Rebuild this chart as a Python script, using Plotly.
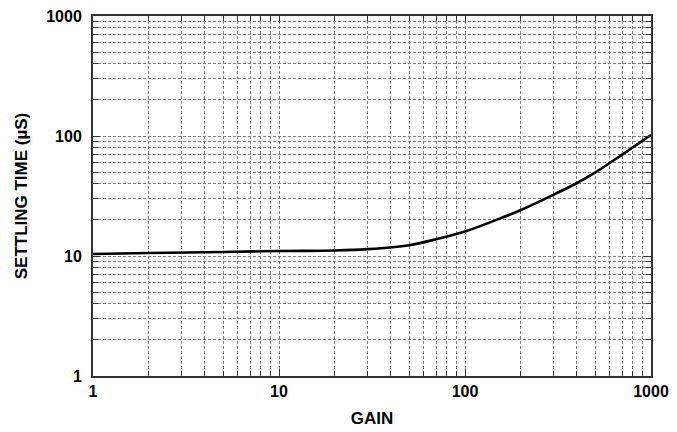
import plotly.graph_objects as go

gain = [1, 2, 5, 10, 20, 30, 50, 70, 100, 150, 200, 300, 400, 500, 700, 1000]
settling_us = [10.4, 10.6, 10.8, 11.0, 11.1, 11.4, 12.3, 13.8, 16.0, 20.2, 24.2, 32.5, 40.6, 49.5, 70.0, 102]

x_ticks = [1, 10, 100, 1000]
x_ticklabels = ["1", "10", "100", "1000"]
y_ticks = [1, 10, 100, 1000]
y_ticklabels = ["1", "10", "100", "1000"]
minor_vals = [m * d for d in (1, 10, 100) for m in range(2, 10)]

FONT = "Liberation Sans, Arial, sans-serif"
GRID = "#7f7f7f"
AX = "#333333"

fig = go.Figure()
fig.add_trace(go.Scatter(x=gain, y=settling_us, mode="lines",
                         line=dict(color="black", width=2.6, shape="spline", smoothing=1.0),
                         showlegend=False))

common = dict(type="log", showline=True, linecolor=AX, linewidth=2, mirror="ticks",
              ticks="inside", ticklen=7, tickwidth=1, tickcolor=AX,
              showgrid=True, gridcolor=GRID, gridwidth=1, griddash="3px,2px",
              tickfont=dict(family=FONT, size=16, color="black", weight="bold"),
              zeroline=False, tickmode="array", automargin=False,
              minor=dict(tickmode="array", tickvals=minor_vals, ticks="inside", ticklen=5,
                         tickcolor=AX, showgrid=True, gridcolor=GRID, gridwidth=1,
                         griddash="3px,2px"))

fig.update_xaxes(**common, range=[0, 3], tickvals=x_ticks, ticktext=x_ticklabels,
                 title=dict(text="GAIN", font=dict(family=FONT, size=17, color="black", weight="bold"),
                            standoff=13))
fig.update_yaxes(**common, range=[0, 3], tickvals=y_ticks, ticktext=y_ticklabels,
                 ticklabelstandoff=6,
                 title=dict(text="SETTLING TIME (µS)", font=dict(family=FONT, size=17, color="black", weight="bold"),
                            standoff=14))

fig.update_layout(width=677, height=432, margin=dict(l=93, r=26, t=16, b=56),
                  plot_bgcolor="white", paper_bgcolor="white")

fig.write_html("out.html", config={"displayModeBar": False},
               post_script="document.body.style.margin='0';")
